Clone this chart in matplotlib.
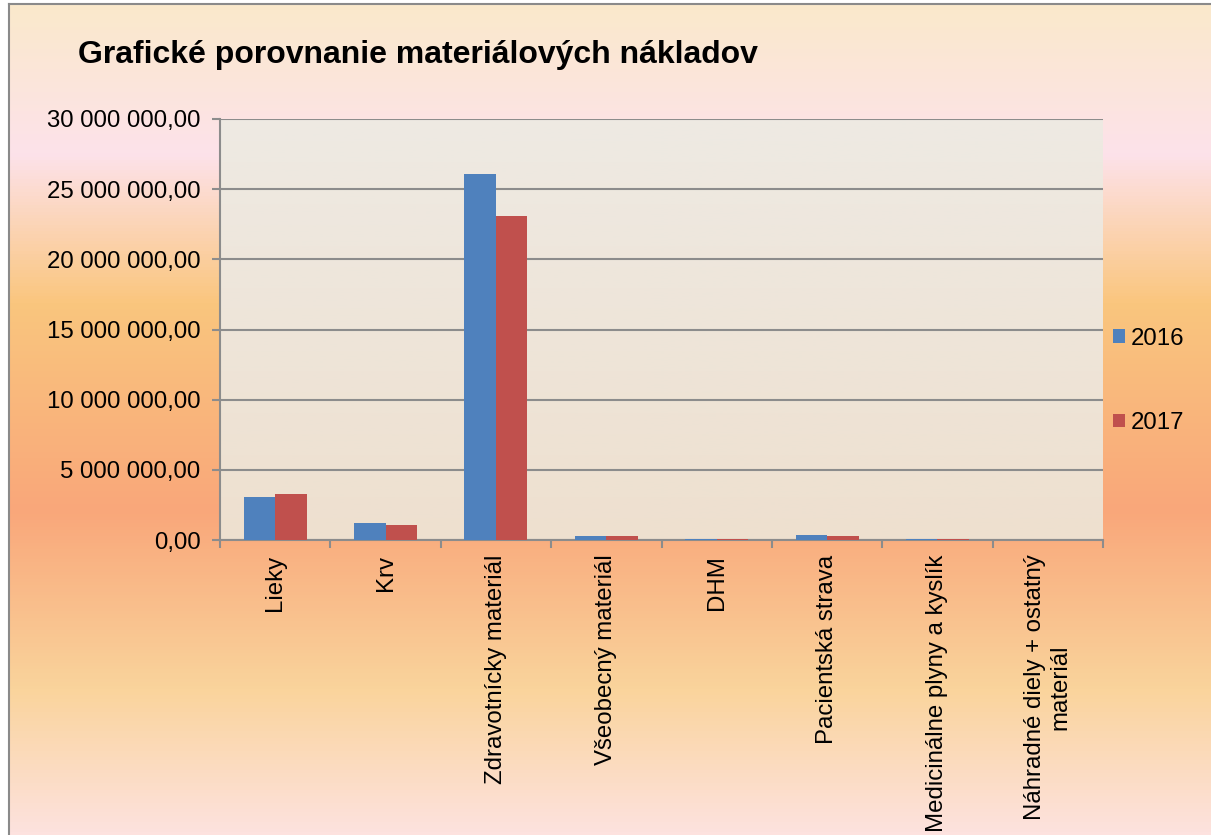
import numpy as np
import matplotlib
matplotlib.use("Agg")
import matplotlib.pyplot as plt
from matplotlib.colors import LinearSegmentedColormap
from matplotlib.ticker import FuncFormatter, MultipleLocator

plt.rcParams['font.family'] = ['Liberation Sans', 'DejaVu Sans']

# material costs per category
kategorie = ['Lieky', 'Krv', 'Zdravotnícky materiál', 'Všeobecný materiál', 'DHM',
             'Pacientská strava', 'Medicinálne plyny a kyslík',
             'Náhradné diely + ostatný\nmateriál']
roky = ['2016', '2017']
naklady_2016 = [3060000, 1190000, 26050000, 300000, 50000, 360000, 60000, 20000]
naklady_2017 = [3260000, 1070000, 23100000, 300000, 50000, 310000, 50000, 20000]
farby = ['#4F81BD', '#C0504D']

fig = plt.figure(figsize=(12.11, 8.35), dpi=100)
fig.patch.set_facecolor('white')

# outer chart area with vertical gradient (top -> bottom)
bg = fig.add_axes([9 / 1211, 0, 1 - 9 / 1211, 831 / 835], zorder=-2)
bg_cmap = LinearSegmentedColormap.from_list('bg', [
    (0.0, '#FAE9CB'), (150 / 835, '#FDE2EA'), (300 / 835, '#FAC67E'),
    (510 / 835, '#F9A77A'), (690 / 835, '#FAD49C'), (1.0, '#FDE2DF')])
bg.imshow(np.linspace(0, 1, 256).reshape(-1, 1), cmap=bg_cmap, aspect='auto',
          extent=[0, 1, 0, 1], origin='upper')
bg.set_xlim(0, 1)
bg.set_ylim(0, 1)
bg.axis('off')
fig.add_artist(plt.Line2D([8.5 / 1211, 8.5 / 1211], [0, 831 / 835], color='#8A8A8A', lw=1.5))
fig.add_artist(plt.Line2D([8.5 / 1211, 1], [831 / 835, 831 / 835], color='#8A8A8A', lw=1.5))

ax = fig.add_axes([220 / 1211, 295 / 835, 883 / 1211, 421 / 835])
ax.patch.set_alpha(0)
plot_cmap = LinearSegmentedColormap.from_list('plot', ['#EEE0CF', '#EEEAE3'])
ax.imshow(np.linspace(0, 1, 256).reshape(-1, 1), cmap=plot_cmap, aspect='auto',
          extent=[0, 1, 0, 1], origin='lower', transform=ax.transAxes, zorder=0)

x = np.arange(len(kategorie))
w = 1 / 3.5
ax.bar(x - w / 2, naklady_2016, w, color=farby[0], label=roky[0], zorder=3)
ax.bar(x + w / 2, naklady_2017, w, color=farby[1], label=roky[1], zorder=3)

ax.set_xlim(-0.5, len(kategorie) - 0.5)
ax.set_ylim(0, 30000000)
ax.yaxis.set_major_locator(MultipleLocator(5000000))
ax.yaxis.set_major_formatter(FuncFormatter(
    lambda v, p: f'{v:,.2f}'.replace(',', ' ').replace('.', ',')))
ax.grid(axis='y', color='#8C8C8C', lw=1.5, zorder=1)
ax.set_axisbelow(True)

for s in ['top', 'right']:
    ax.spines[s].set_visible(False)
for s in ['left', 'bottom']:
    ax.spines[s].set_color('#8C8C8C')
    ax.spines[s].set_linewidth(1.5)

ax.set_xticks(np.arange(len(kategorie) + 1) - 0.5)
ax.set_xticklabels([])
ax.tick_params(axis='both', colors='#8C8C8C', length=6, width=1.5)
ax.tick_params(axis='y', labelcolor='black', labelsize=17.3, pad=8)

for i, k in enumerate(kategorie):
    ax.text(i, -0.035, k, transform=ax.get_xaxis_transform(), rotation=90,
            ha='center', va='top', fontsize=17.3, multialignment='center')

fig.text(78 / 1211, 1 - 55 / 835, 'Grafické porovnanie materiálových nákladov',
         fontsize=23, fontweight='bold', va='center', ha='left')

ax.legend(loc='center left', bbox_to_anchor=(1.0, 0.378), frameon=False,
          fontsize=17.3, handlelength=0.5, handleheight=0.5, handletextpad=0.25,
          labelspacing=2.6, borderaxespad=0.0)

fig.savefig('out.png', dpi=100)
